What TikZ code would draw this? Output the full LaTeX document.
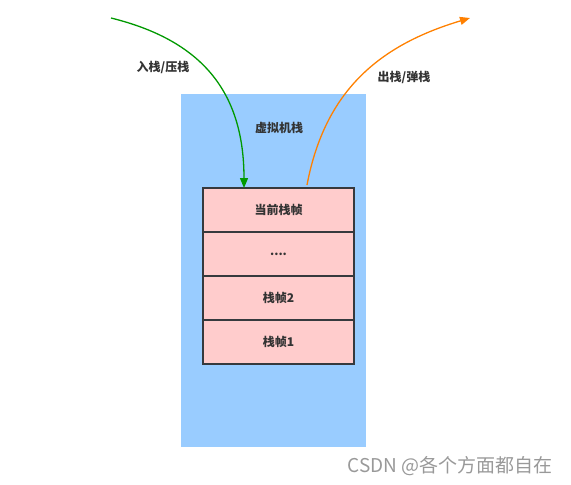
\documentclass[tikz,border=0pt]{standalone}
\usepackage{fontspec}
\setmainfont{Noto Sans CJK SC}
\newfontfamily\cjk{Noto Sans CJK SC}
\usetikzlibrary{arrows.meta}
\definecolor{stackblue}{HTML}{99CCFF}
\definecolor{framepink}{HTML}{FFCCCC}
\definecolor{framedraw}{HTML}{36393D}
\definecolor{txt}{HTML}{333333}
\definecolor{pushgreen}{HTML}{009900}
\definecolor{poporange}{HTML}{FF8000}
\begin{document}
\begin{tikzpicture}[x=1pt,y=-1pt,
  lbl/.style={text=txt,font=\cjk\bfseries\fontsize{12}{14}\selectfont},
  framebox/.style={draw=framedraw,line width=1.2pt,fill=framepink,minimum width=151pt,minimum height=44pt,inner sep=0pt,outer sep=0pt,lbl},
  flow/.style={line width=1.3pt,-{Triangle[length=10pt,width=8pt]}}]
\useasboundingbox (0,0) rectangle (571,485);
\fill[stackblue] (181,94) rectangle (366,447);
\node[lbl] (vmlabel) at (279,128) {虚拟机栈};
\node[framebox] (cur) at (278.5,210) {当前栈帧};
\node[framebox,anchor=north] (dots) at (cur.south) {....};
\node[framebox,anchor=north] (f2) at (dots.south) {栈帧2};
\node[framebox,anchor=north] (f1) at (f2.south) {栈帧1};
\coordinate (pushstart) at (111,18);
\coordinate (pushend) at (244,188);
\coordinate (popstart) at (307,185);
\coordinate (popend) at (470,18);
\draw[flow,pushgreen] (pushstart) .. controls (200,40) and (244,90) .. (pushend);
\draw[flow,poporange] (popstart) .. controls (325,90) and (380,45) .. (popend);
\node[lbl] (pushlbl) at (163,67) {入栈/压栈};
\node[lbl] (poplbl) at (404,77) {出栈/弹栈};
\node[text=black!40,font=\cjk\fontsize{19}{22}\selectfont] (wm) at (450,466) {CSDN @各个方面都自在};
\end{tikzpicture}
\end{document}
